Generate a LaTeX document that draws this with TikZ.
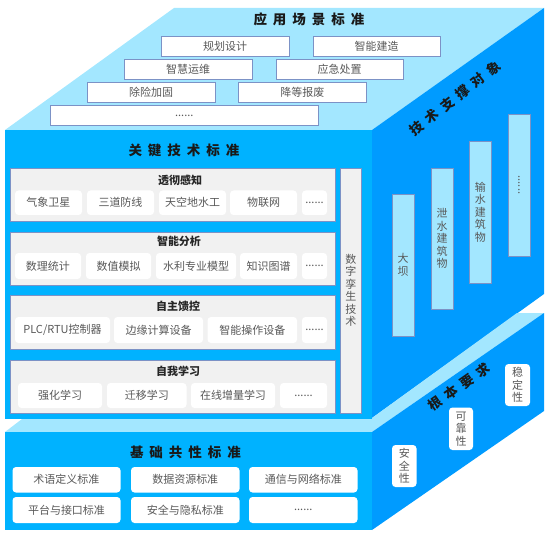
\documentclass[tikz,border=0pt]{standalone}
\usepackage{fontspec}
\setmainfont{Noto Sans CJK SC}
\newcommand{\widespaces}{\spaceskip=6pt\relax}
\tikzset{
  x=1pt,y=-1pt,
  face/.style={draw=none},
  frontface/.style={face,fill=cfront},
  sideface/.style={face,fill=cside},
  topface/.style={face,fill=ctop},
  plain/.style={inner sep=0pt,outer sep=0pt,align=center,text=ctext,font=\fontsize{11}{12.5}\selectfont},
  framebox/.style={plain,draw=cedge,line width=0.9pt},
  scenebox/.style={framebox,fill=white},
  objbox/.style={framebox,fill=ctop},
  panelbox/.style={framebox,fill=cpanel},
  roundbox/.style={plain,fill=white,rounded corners=3.5pt},
  paneltitle/.style={inner sep=0pt,text=black!85,font=\fontsize{11}{13}\selectfont\bfseries},
  bigtitle/.style={inner sep=0pt,text=black!90,font=\fontsize{13.5}{16}\selectfont\bfseries\widespaces},
}
\definecolor{cfront}{HTML}{00B2FF}
\definecolor{cside}{HTML}{009BFF}
\definecolor{ctop}{HTML}{A3E7FF}
\definecolor{cedge}{HTML}{7C92C6}
\definecolor{cpanel}{HTML}{F1F1F1}
\definecolor{ctext}{HTML}{595959}
% \bx{style}{name}{x1}{y1}{x2}{y2}{text}
\newcommand{\bx}[7]{\node[#1,minimum width={(#5)-(#3)},minimum height={(#6)-(#4)}] (#2) at ({((#3)+(#5))/2},{((#4)+(#6))/2}) {#7};}
\begin{document}
\begin{tikzpicture}
\useasboundingbox (0,0) rectangle (550,535);
% faces
\fill[topface] (5,130) -- (174,8) -- (544,8) -- (372,130) -- cycle;
\fill[frontface] (5,130) rectangle (372,419);
\fill[sideface] (372,130) -- (544,8) -- (544,294) -- (372,418) -- cycle;
\fill[topface] (5,432) -- (22,419) -- (372,419) -- (372,418) -- (517,313) -- (544,313) -- (372,432) -- cycle;
\fill[frontface] (5,432) rectangle (372,530);
\fill[sideface] (372,432) -- (544,313) -- (544,411) -- (372,530) -- cycle;
% titles
\node[bigtitle] (ttop) at (309,19) {应 用 场 景 标 准};
\node[bigtitle] (tkey) at (184,150) {关 键 技 术 标 准};
\node[bigtitle] (tbase) at (185.5,452) {基 础 共 性 标 准};
\node[bigtitle,rotate=38] (tside) at (455,98) {技 术 支 撑 对 象};
\node[bigtitle,rotate=35] (treq) at (459,387) {根 本 要 求};
% scenarios
\bx{scenebox}{s1}{161}{36}{289}{56}{规划设计}
\bx{scenebox}{s2}{313}{36}{440}{56}{智能建造}
\bx{scenebox}{s3}{124}{59}{252}{79}{智慧运维}
\bx{scenebox}{s4}{276}{59}{403}{79}{应急处置}
\bx{scenebox}{s5}{87}{82}{215}{102}{除险加固}
\bx{scenebox}{s6}{238.5}{82}{366}{102}{降等报废}
\bx{scenebox}{s7}{50.5}{105.5}{318}{125.5}{......}
% panels
\bx{panelbox}{p1}{10.5}{168}{335}{221}{}
\bx{panelbox}{p2}{10.5}{232}{335}{285}{}
\bx{panelbox}{p3}{10.5}{295}{335}{349}{}
\bx{panelbox}{p4}{10.5}{360}{335}{413}{}
\bx{panelbox}{twin}{340}{168}{361.5}{413}{数\\字\\孪\\生\\技\\术}
\node[paneltitle] (p1t) at (180,180) {透彻感知};
\node[paneltitle] (p2t) at (179,241.5) {智能分析};
\node[paneltitle] (p3t) at (178,306.5) {自主馈控};
\node[paneltitle] (p4t) at (178,371.5) {自我学习};
% panel 1
\bx{roundbox}{a1}{15}{190.5}{82}{215}{气象卫星}
\bx{roundbox}{a2}{87}{190.5}{154}{215}{三道防线}
\bx{roundbox}{a3}{159}{190.5}{226}{215}{天空地水工}
\bx{roundbox}{a4}{230}{190.5}{297}{215}{物联网}
\bx{roundbox}{a5}{302}{190.5}{327}{215}{......}
% panel 2
\bx{roundbox}{b1}{15}{253}{81}{279}{数理统计}
\bx{roundbox}{b2}{86}{253}{151}{279}{数值模拟}
\bx{roundbox}{b3}{156}{253}{236}{279}{水利专业模型}
\bx{roundbox}{b4}{240}{253}{297}{279}{知识图谱}
\bx{roundbox}{b5}{302}{253}{327}{279}{......}
% panel 3
\bx{roundbox}{c1}{15}{317}{110}{343}{PLC/RTU控制器}
\bx{roundbox}{c2}{114}{317}{203}{343}{边缘计算设备}
\bx{roundbox}{c3}{207.5}{317}{297}{343}{智能操作设备}
\bx{roundbox}{c4}{302}{317}{327}{343}{......}
% panel 4
\bx{roundbox}{d1}{18}{383}{102}{408}{强化学习}
\bx{roundbox}{d2}{107}{383}{186.5}{408}{迁移学习}
\bx{roundbox}{d3}{191}{383}{275}{408}{在线增量学习}
\bx{roundbox}{d4}{280}{383}{327}{408}{......}
% base
\bx{roundbox}{e1}{12.5}{467}{120.5}{492.5}{术语定义标准}
\bx{roundbox}{e2}{131}{467}{239.5}{492.5}{数据资源标准}
\bx{roundbox}{e3}{249}{467}{357.5}{492.5}{通信与网络标准}
\bx{roundbox}{e4}{12.5}{497}{120.5}{523}{平台与接口标准}
\bx{roundbox}{e5}{131}{497}{239.5}{523}{安全与隐私标准}
\bx{roundbox}{e6}{249}{497}{357.5}{523}{......}
% side objects
\bx{objbox}{o1}{392}{194}{414}{336}{大\\坝}
\bx{objbox}{o2}{431}{168}{453}{309}{泄\\水\\建\\筑\\物}
\bx{objbox}{o3}{469.5}{141}{491}{283}{输\\水\\建\\筑\\物}
\bx{objbox}{o4}{508}{114}{530}{256}{}
\node[plain,rotate=-90] (o4t) at (o4) {......};
% requirements
\bx{roundbox}{r1}{392}{445}{416.5}{487}{安\\全\\性}
\bx{roundbox}{r2}{449}{407.5}{473}{450}{可\\靠\\性}
\bx{roundbox}{r3}{505}{364}{530}{406}{稳\\定\\性}
\end{tikzpicture}
\end{document}
